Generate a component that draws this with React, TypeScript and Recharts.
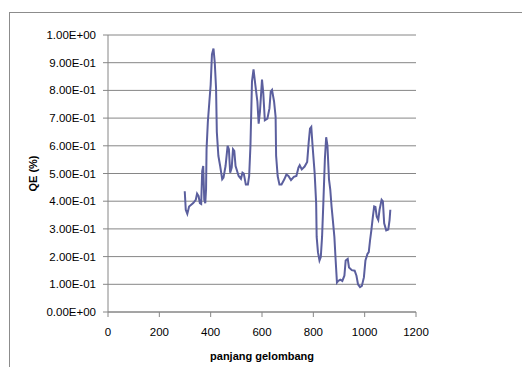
import React from 'react';
import { LineChart, Line, XAxis, YAxis, CartesianGrid, Label } from 'recharts';

const wavelength = [
  299, 303, 309, 316, 332, 342, 347, 353, 358, 363, 367, 371, 375, 379, 382, 384, 389, 395, 400, 405,
  411, 416, 421, 424, 430, 437, 445, 450, 458, 466, 471, 476, 482, 487, 492, 497, 509, 518, 524, 529,
  537, 545, 550, 555, 561, 567, 574, 582, 587, 592, 600, 605, 611, 621, 629, 634, 639, 647, 653, 655,
  661, 668, 676, 687, 695, 703, 713, 724, 734, 742, 747, 755, 766, 776, 782, 787, 792, 797, 805, 811,
  813, 818, 824, 829, 834, 839, 845, 850, 855, 861, 866, 871, 876, 882, 887, 892, 897, 905, 913, 921,
  926, 934, 939, 950, 961, 968, 974, 982, 989, 997, 1003, 1011, 1016, 1021, 1026, 1032, 1037, 1042, 1047, 1053,
  1058, 1066, 1071, 1076, 1084, 1092, 1097, 1100,
];

const qe = [
  0.436, 0.369, 0.354, 0.381, 0.393, 0.405, 0.427, 0.418, 0.393, 0.39, 0.509, 0.527, 0.405, 0.393, 0.442, 0.588, 0.686, 0.76, 0.82, 0.93,
  0.951, 0.9, 0.808, 0.65, 0.564, 0.527, 0.479, 0.485, 0.527, 0.6, 0.588, 0.503, 0.521, 0.588, 0.582, 0.527, 0.491, 0.481, 0.503, 0.5,
  0.46, 0.46, 0.491, 0.6, 0.833, 0.876, 0.82, 0.76, 0.68, 0.723, 0.839, 0.79, 0.692, 0.698, 0.735, 0.796, 0.802, 0.76, 0.705, 0.564,
  0.491, 0.46, 0.46, 0.479, 0.496, 0.491, 0.476, 0.488, 0.491, 0.521, 0.53, 0.515, 0.525, 0.542, 0.613, 0.662, 0.668, 0.6, 0.503, 0.393,
  0.271, 0.216, 0.186, 0.198, 0.271, 0.393, 0.552, 0.631, 0.601, 0.479, 0.442, 0.381, 0.332, 0.271, 0.186, 0.106, 0.112, 0.117, 0.112, 0.131,
  0.186, 0.192, 0.161, 0.151, 0.149, 0.131, 0.1, 0.09, 0.094, 0.125, 0.186, 0.21, 0.216, 0.259, 0.295, 0.344, 0.381, 0.379, 0.344, 0.332,
  0.369, 0.405, 0.399, 0.32, 0.295, 0.298, 0.332, 0.369,
];

const xTicks = [0, 200, 400, 600, 800, 1000, 1200];
const yTicks = [0, 0.1, 0.2, 0.3, 0.4, 0.5, 0.6, 0.7, 0.8, 0.9, 1.0];
const yTickLabels = [
  '0.00E+00', '1.00E-01', '2.00E-01', '3.00E-01', '4.00E-01', '5.00E-01',
  '6.00E-01', '7.00E-01', '8.00E-01', '9.00E-01', '1.00E+00',
];

const data = wavelength.map((w, i) => ({ w, qe: qe[i] }));

const font = '"Liberation Sans", Arial, sans-serif';
const grey = '#868686';

export default function App() {
  return (
    <div style={{ position: 'relative', width: 522, height: 359, overflow: 'hidden', fontFamily: font }}>
      <div
        style={{
          position: 'absolute', left: 1, top: 4, width: 560, height: 420,
          border: '1px solid #8c8c8c', boxSizing: 'border-box',
        }}
      />
      <div style={{ position: 'absolute', left: 0, top: 0 }}>
        <LineChart width={522} height={359} data={data} margin={{ top: 27, right: 114, left: 0, bottom: 0 }}>
          <CartesianGrid vertical={false} stroke={grey} strokeWidth={1} />
          <XAxis
            dataKey="w"
            type="number"
            domain={[0, 1200]}
            ticks={xTicks}
            interval={0}
            height={55}
            tickSize={5}
            tickMargin={11}
            stroke={grey}
            tick={{ fill: '#000', fontSize: 11.5, fontFamily: font }}
          >
            <Label
              content={({ viewBox }: any) => (
                <text
                  x={viewBox.x + viewBox.width / 2}
                  y={viewBox.y + 44}
                  textAnchor="middle"
                  dominantBaseline="central"
                  fontSize={11}
                  fontWeight="bold"
                  fontFamily={font}
                  fill="#000"
                >
                  panjang gelombang
                </text>
              )}
            />
          </XAxis>
          <YAxis
            type="number"
            domain={[0, 1]}
            ticks={yTicks}
            interval={0}
            width={100}
            tickSize={5}
            tickMargin={7}
            stroke={grey}
            tickFormatter={(v: number, i: number) => yTickLabels[i]}
            tick={{ fill: '#000', fontSize: 11.5, fontFamily: font }}
          >
            <Label
              content={({ viewBox }: any) => {
                const x = viewBox.x + 25;
                const y = viewBox.y + viewBox.height / 2;
                return (
                  <text
                    x={x}
                    y={y}
                    transform={`rotate(-90 ${x} ${y})`}
                    textAnchor="middle"
                    dominantBaseline="central"
                    fontSize={11}
                    fontWeight="bold"
                    fontFamily={font}
                    fill="#000"
                  >
                    QE (%)
                  </text>
                );
              }}
            />
          </YAxis>
          <Line
            type="linear"
            dataKey="qe"
            stroke="#5b5f9e"
            strokeWidth={2}
            dot={false}
            isAnimationActive={false}
          />
        </LineChart>
      </div>
    </div>
  );
}
